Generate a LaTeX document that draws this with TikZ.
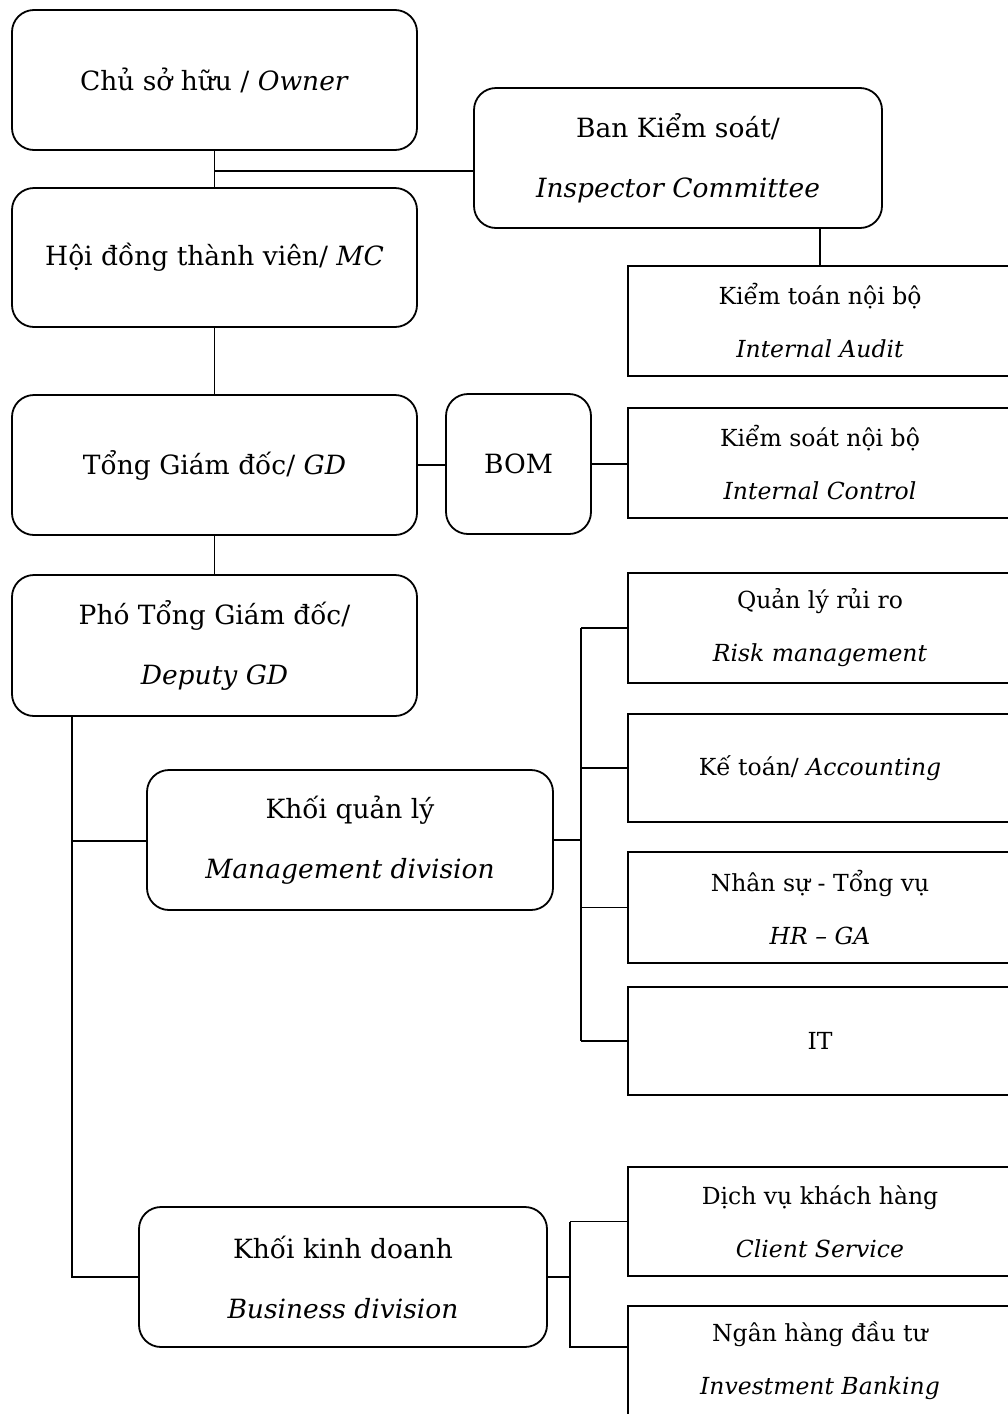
\documentclass[tikz,border=0pt]{standalone}
\usepackage{fontspec}
\setmainfont{DejaVu Serif}
\begin{document}
\begin{tikzpicture}[x=1pt,y=-1pt,
  rbox/.style={draw,line width=1.8pt,rounded corners=22pt,align=center,inner sep=0pt,
    font=\fontsize{26.5}{60}\selectfont},
  sbox/.style={draw,line width=1.8pt,align=center,inner sep=0pt,minimum width=384pt,
    font=\fontsize{23.5}{53}\selectfont},
  conn/.style={line width=1.8pt}]
\useasboundingbox (0,0) rectangle (1008,1414);
\clip (0,0) rectangle (1008,1414);
% main column
\node[rbox,minimum width=405pt,minimum height=140pt] (owner) at (214.5,80) {Chủ sở hữu / \textit{Owner}};
\node[rbox,minimum width=405pt,minimum height=139pt] (mc) at (214.5,257.5) {Hội đồng thành viên/ \textit{MC}};
\node[rbox,minimum width=408pt,minimum height=140pt] (insp) at (678,158) {Ban Kiểm soát/\\\textit{Inspector Committee}};
\node[sbox,minimum height=110pt] (audit) at (820,321) {Kiểm toán nội bộ\\\textit{Internal Audit}};
\node[rbox,minimum width=405pt,minimum height=140pt] (gd) at (214.5,465) {Tổng Giám đốc/ \textit{GD}};
\node[rbox,minimum width=145pt,minimum height=140pt] (bom) at (518.5,464) {BOM};
\node[sbox,minimum height=110pt] (control) at (820,463) {Kiểm soát nội bộ\\\textit{Internal Control}};
\node[rbox,minimum width=405pt,minimum height=141pt] (dep) at (214.5,645.5) {Phó Tổng Giám đốc/\\\textit{Deputy GD}};
\node[rbox,minimum width=406pt,minimum height=140pt] (mgmt) at (350,840) {Khối quản lý\\\textit{Management division}};
\node[sbox,minimum height=110pt] (risk) at (820,628) {Quản lý rủi ro\\\textit{Risk management}};
\node[sbox,minimum height=108pt] (acc) at (820,768) {Kế toán/ \textit{Accounting}};
\node[sbox,minimum height=111pt] (hr) at (820,907.5) {Nhân sự - Tổng vụ\\\textit{HR – GA}};
\node[sbox,minimum height=108pt] (it) at (820,1041) {IT};
\node[rbox,minimum width=408pt,minimum height=140pt] (bus) at (343,1277) {Khối kinh doanh\\\textit{Business division}};
\node[sbox,minimum height=109pt] (client) at (820,1221.5) {Dịch vụ khách hàng\\\textit{Client Service}};
\node[sbox,minimum height=110pt] (inv) at (820,1361) {Ngân hàng đầu tư\\\textit{Investment Banking}};
% connectors
\coordinate (j1) at (214.5,171);
\draw[conn] (owner) -- (mc);
\draw[conn] (j1) -- (j1 -| insp.west);
\draw[conn] (audit.north) -- (audit.north |- insp.south);
\draw[conn] (mc) -- (gd);
\draw[conn] (gd.east) -- (gd.east -| bom.west);
\draw[conn] (bom.east) -- (bom.east -| control.west);
\draw[conn] (gd) -- (dep);
\coordinate (t1) at (72,841);
\coordinate (t2) at (72,1277);
\draw[conn] (dep.south -| t1) -- (t2) -- (bus.west);
\draw[conn] (t1) -- (t1 -| mgmt.west);
\coordinate (m) at (581,840);
\draw[conn] (mgmt.east) -- (m);
\draw[conn] (m |- risk.west) -- (m |- it.west);
\draw[conn] (m |- risk.west) -- (risk.west);
\draw[conn] (m |- acc.west) -- (acc.west);
\draw[conn] (m |- hr.west) -- (hr.west);
\draw[conn] (m |- it.west) -- (it.west);
\coordinate (b) at (570,1277);
\coordinate (b2) at (570,1347);
\draw[conn] (bus.east) -- (b);
\draw[conn] (b |- client.west) -- (b2) -- (b2 -| inv.west);
\draw[conn] (b |- client.west) -- (client.west);
\end{tikzpicture}
\end{document}
